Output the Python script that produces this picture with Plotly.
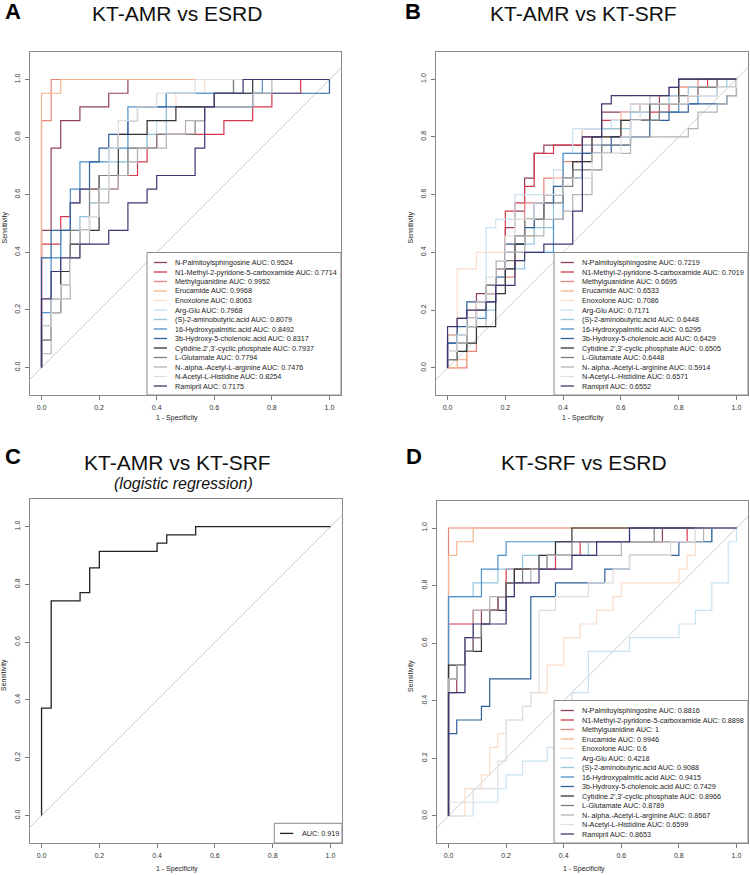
import plotly.graph_objects as go

W, H = 750, 875
FONT = "Liberation Sans, Arial, Helvetica, sans-serif"

# ---------------- data ----------------
metabolites = [
    "N-Palmitoylsphingosine", "N1-Methyl-2-pyridone-5-carboxamide", "Methylguanidine",
    "Erucamide", "Enoxolone", "Arg-Glu", "(S)-2-aminobutyric.acid", "16-Hydroxypalmitic.acid",
    "3b-Hydroxy-5-cholenoic.acid", "Cytidine.2',3'-cyclic.phosphate", "L-Glutamate",
    "N-.alpha.-Acetyl-L-arginine", "N-Acetyl-L-Histidine", "Ramipril",
]
colors = [
    "#923f60", "#d43a4c", "#e8847a", "#f5b38e", "#fbdcc9", "#c9e2f0", "#95c6df",
    "#4d91cc", "#2f5f9b", "#333333", "#7f7f7f", "#b3b3b3", "#dedede", "#3b3672",
]

auc_A = ["0.9524", "0.7714", "0.9952", "0.9968", "0.8063", "0.7968", "0.8079",
         "0.8492", "0.8317", "0.7937", "0.7794", "0.7476", "0.8254", "0.7175"]
auc_B = ["0.7219", "0.7019", "0.6695", "0.6533", "0.7086", "0.7171", "0.6448",
         "0.6295", "0.6429", "0.6505", "0.6448", "0.5914", "0.6571", "0.6552"]
auc_C = "0.919"
auc_D = ["0.8816", "0.8898", "1", "0.9946", "0.6", "0.4218", "0.9088",
         "0.9415", "0.7429", "0.8966", "0.8789", "0.8667", "0.6599", "0.8653"]

# group sizes (negatives on x, positives on y)
n_A = (30, 21)
n_B = (30, 35)
n_C = (30, 35)
n_D = (35, 21)

# ROC staircases: (false-positive count, number of true-positive steps at that count)
roc_A = [
    [(0, 10), (1, 6), (2, 2), (4, 1), (7, 1), (9, 1)],
    [(0, 9), (2, 2), (3, 1), (4, 1), (8, 1), (10, 1), (11, 1), (12, 1), (19, 1), (22, 1), (24, 1), (27, 1)],
    [(0, 18), (1, 3)],
    [(0, 20), (2, 1)],
    [(0, 5), (2, 1), (3, 3), (4, 2), (5, 1), (6, 1), (7, 1), (9, 1), (10, 1), (11, 2), (13, 1), (14, 1), (17, 1)],
    [(0, 3), (1, 2), (2, 1), (3, 3), (4, 1), (5, 1), (6, 2), (7, 1), (8, 1), (10, 1), (11, 1), (12, 1), (13, 2), (20, 1)],
    [(0, 2), (1, 3), (2, 5), (4, 1), (5, 1), (6, 1), (7, 2), (9, 1), (11, 1), (13, 3), (20, 1)],
    [(0, 4), (1, 4), (2, 2), (3, 3), (4, 2), (7, 1), (9, 3), (13, 1), (23, 1)],
    [(0, 8), (1, 2), (3, 2), (4, 1), (5, 2), (6, 1), (7, 1), (9, 1), (10, 1), (22, 1), (30, 1)],
    [(0, 3), (1, 1), (2, 3), (3, 2), (4, 1), (6, 4), (8, 3), (11, 1), (14, 1), (18, 1), (22, 1)],
    [(0, 2), (1, 3), (2, 1), (3, 4), (5, 3), (6, 1), (9, 2), (12, 1), (16, 1), (17, 1), (18, 1), (20, 1)],
    [(0, 1), (1, 3), (2, 1), (3, 3), (4, 1), (5, 2), (6, 1), (7, 1), (8, 1), (9, 1), (10, 1), (13, 1), (15, 1), (17, 1), (22, 1), (24, 1)],
    [(0, 3), (1, 2), (2, 1), (3, 2), (4, 2), (5, 1), (6, 2), (7, 3), (8, 2), (10, 1), (12, 1), (16, 1)],
    [(0, 5), (1, 2), (2, 1), (4, 1), (7, 1), (9, 2), (11, 1), (12, 1), (16, 2), (17, 3), (18, 1), (21, 1)],
]
roc_B = [
    [(0, 4), (1, 2), (3, 3), (4, 1), (5, 2), (6, 5), (7, 2), (8, 4), (9, 3), (10, 1), (14, 2), (16, 2), (20, 1), (22, 1), (24, 1), (28, 1)],
    [(0, 3), (2, 3), (3, 2), (4, 1), (5, 1), (6, 9), (7, 1), (8, 2), (9, 4), (11, 1), (14, 1), (16, 2), (21, 1), (23, 1), (25, 1), (26, 1), (27, 1)],
    [(2, 2), (3, 3), (4, 3), (5, 3), (7, 4), (8, 5), (10, 3), (12, 2), (14, 2), (16, 2), (18, 2), (19, 1), (21, 1), (23, 1), (26, 1)],
    [(1, 1), (2, 6), (4, 2), (5, 2), (6, 2), (8, 3), (9, 2), (10, 3), (11, 2), (13, 2), (15, 3), (18, 2), (21, 2), (24, 2), (30, 1)],
    [(0, 4), (1, 8), (3, 2), (6, 1), (7, 3), (10, 3), (11, 2), (12, 3), (14, 3), (18, 2), (21, 1), (24, 1), (26, 1), (28, 1)],
    [(0, 3), (2, 2), (4, 12), (5, 1), (7, 3), (11, 3), (12, 2), (13, 3), (17, 1), (19, 2), (21, 1), (23, 1), (24, 1)],
    [(0, 2), (2, 3), (3, 2), (5, 3), (6, 2), (8, 3), (9, 2), (11, 4), (12, 2), (14, 4), (16, 2), (19, 2), (21, 1), (23, 1), (25, 1), (29, 1)],
    [(0, 3), (1, 1), (2, 2), (4, 2), (5, 3), (6, 3), (11, 4), (12, 8), (16, 1), (19, 3), (22, 1), (24, 1), (26, 1), (28, 1), (30, 1)],
    [(0, 3), (1, 2), (2, 3), (4, 2), (5, 3), (6, 2), (8, 2), (9, 3), (11, 2), (12, 1), (14, 3), (17, 2), (21, 2), (23, 1), (25, 1), (29, 1), (30, 2)],
    [(0, 1), (1, 1), (2, 1), (3, 2), (5, 4), (6, 3), (7, 3), (8, 3), (10, 3), (12, 2), (13, 2), (15, 3), (18, 2), (21, 2), (24, 3)],
    [(0, 1), (1, 2), (2, 2), (3, 2), (4, 3), (5, 3), (7, 3), (8, 2), (10, 2), (12, 2), (13, 2), (16, 3), (19, 3), (22, 2), (24, 1), (26, 1), (28, 1)],
    [(0, 2), (1, 1), (2, 2), (3, 2), (4, 2), (5, 3), (6, 2), (8, 2), (10, 2), (12, 1), (13, 2), (15, 3), (16, 2), (19, 2), (25, 1), (26, 2), (28, 1), (29, 1), (30, 2)],
    [(0, 2), (1, 2), (2, 2), (3, 2), (4, 3), (5, 2), (6, 3), (7, 2), (9, 2), (10, 1), (12, 2), (15, 3), (18, 2), (19, 2), (20, 2), (25, 1), (28, 1), (30, 1)],
    [(0, 5), (1, 1), (2, 1), (4, 1), (5, 2), (7, 3), (8, 1), (10, 1), (13, 4), (14, 9), (16, 4), (17, 1), (23, 1), (24, 1)],
]
roc_C = [(0, 13), (1, 13), (4, 1), (5, 3), (6, 2), (12, 1), (13, 1), (16, 1)]
roc_D = [
    [(0, 9), (1, 2), (2, 1), (3, 1), (4, 2), (6, 1), (7, 1), (8, 1), (12, 1), (13, 1), (26, 1)],
    [(0, 14), (3, 1), (6, 1), (7, 2), (13, 1), (16, 1), (29, 1)],
    [(0, 21)],
    [(0, 19), (1, 1), (3, 1)],
    [(2, 2), (4, 1), (5, 2), (6, 1), (7, 1), (9, 1), (10, 1), (12, 2), (14, 2), (16, 1), (18, 1), (20, 1), (21, 1), (28, 1), (29, 1), (30, 2)],
    [(3, 1), (6, 1), (7, 1), (9, 1), (12, 1), (13, 1), (14, 2), (15, 1), (17, 3), (22, 1), (28, 1), (30, 1), (32, 2), (34, 3), (35, 1)],
    [(0, 16), (3, 1), (6, 1), (9, 1), (17, 1), (32, 1)],
    [(0, 16), (4, 2), (6, 1), (7, 1), (22, 1)],
    [(0, 6), (1, 1), (4, 1), (5, 2), (10, 6), (13, 1), (19, 1), (22, 1), (28, 1), (32, 1)],
    [(0, 11), (2, 1), (4, 2), (5, 1), (7, 2), (8, 1), (11, 1), (13, 1), (15, 1)],
    [(0, 10), (1, 1), (2, 1), (3, 1), (4, 1), (5, 1), (6, 1), (7, 1), (9, 1), (12, 1), (15, 1), (25, 1)],
    [(0, 10), (1, 1), (2, 2), (3, 2), (5, 1), (8, 1), (10, 1), (12, 1), (21, 1), (31, 1)],
    [(0, 1), (3, 1), (6, 2), (7, 3), (9, 1), (10, 1), (11, 6), (13, 1), (17, 1), (20, 1), (22, 1), (27, 1), (30, 1)],
    [(0, 9), (2, 4), (3, 1), (7, 2), (8, 1), (11, 1), (15, 1), (18, 1), (22, 1)],
]

tick_vals = [0, 0.2, 0.4, 0.6, 0.8, 1.0]
tick_text = ["0.0", "0.2", "0.4", "0.6", "0.8", "1.0"]

titles = ["KT-AMR vs ESRD", "KT-AMR vs KT-SRF", "KT-AMR vs KT-SRF", "KT-SRF vs ESRD"]
letters = ["A", "B", "C", "D"]
subtitle_C = "(logistic regression)"

# ---------------- layout geometry (pixels) ----------------
frames = {  # left, right, top, bottom
    "A": (30, 341, 52, 395),
    "B": (436, 748, 52, 395),
    "C": (30, 342, 499, 843),
    "D": (437, 748, 501, 843),
}


def px(x):
    return x / W


def py(y):
    return 1 - y / H


def staircase(runs, n):
    nfp, ntp = n
    xs, ys, y = [0], [0], 0
    for x, c in runs:
        xs.append(x)
        ys.append(y)
        y += c
        xs.append(x)
        ys.append(y)
    xs.append(nfp)
    ys.append(ntp)
    return [v / nfp for v in xs], [v / ntp for v in ys]


fig = go.Figure()
shapes, annotations = [], []
axis_ids = {"A": "", "B": "2", "C": "3", "D": "4"}

axis_style = dict(
    showgrid=False, zeroline=False, showline=True, mirror=True,
    linecolor="#8a8a8a", linewidth=1, ticks="outside", ticklen=4,
    tickcolor="#777777", tickwidth=1, tickvals=tick_vals, ticktext=tick_text,
    tickfont=dict(family=FONT, size=7, color="#333333"), fixedrange=True,
)

for key in ["A", "B", "C", "D"]:
    l, r, t, b = frames[key]
    wpx, hpx = r - l, b - t
    yhalf = (hpx / wpx) * 1.08 / 2
    sid = axis_ids[key]
    fig.update_layout(**{
        "xaxis" + sid: dict(axis_style, domain=[px(l), px(r)], range=[-0.04, 1.04],
                            anchor="y" + sid, ticklabelstandoff=2),
        "yaxis" + sid: dict(axis_style, domain=[py(b), py(t)], range=[0.5 - yhalf, 0.5 + yhalf],
                            anchor="x" + sid, tickangle=-90, ticklabelstandoff=2),
    })
    # diagonal reference line
    fig.add_trace(go.Scatter(x=[-0.2, 1.2], y=[-0.2, 1.2], mode="lines",
                             line=dict(color="#cccccc", width=1),
                             xaxis="x" + sid, yaxis="y" + sid, showlegend=False,
                             hoverinfo="skip"))

# curves
for key, roc, n in [("A", roc_A, n_A), ("B", roc_B, n_B), ("D", roc_D, n_D)]:
    sid = axis_ids[key]
    for i, runs in enumerate(roc):
        xs, ys = staircase(runs, n)
        fig.add_trace(go.Scatter(x=xs, y=ys, mode="lines", line=dict(color=colors[i], width=1.2),
                                 xaxis="x" + sid, yaxis="y" + sid, showlegend=False,
                                 name=metabolites[i]))
xs, ys = staircase(roc_C, n_C)
fig.add_trace(go.Scatter(x=xs, y=ys, mode="lines", line=dict(color="#222222", width=1.3),
                         xaxis="x3", yaxis="y3", showlegend=False, name="logistic regression"))


def text(x, y, s, size, xanchor="center", yanchor="middle", bold=False, italic=False,
         angle=0, color="#111111"):
    if bold:
        s = "<b>" + s + "</b>"
    if italic:
        s = "<i>" + s + "</i>"
    annotations.append(dict(x=px(x), y=py(y), xref="paper", yref="paper", text=s,
                            showarrow=False, xanchor=xanchor, yanchor=yanchor,
                            textangle=angle, borderpad=0,
                            font=dict(family=FONT, size=size, color=color)))


# titles and panel letters
title_y = {"A": 13.5, "B": 13.5, "C": 462, "D": 462}
letter_y = {"A": 12, "B": 12, "C": 457, "D": 457}
for key, ttl, let in zip(["A", "B", "C", "D"], titles, letters):
    l, r, t, b = frames[key]
    x0 = l + 0.04 * (r - l) / 1.08
    x1 = l + 1.04 * (r - l) / 1.08
    cx = (x0 + x1) / 2 - 9
    text(cx, title_y[key], ttl, 21)
    text(l - 17 if key in "AC" else l - 23, letter_y[key], let, 22, bold=True, color="#000000")
    # axis titles
    text(cx, b + 23 if key in "AB" else b + 26, "1 - Specificity", 7, color="#222222")
    text(l - 26, (t + b) / 2 + 4, "Sensitivity", 7, angle=-90, color="#222222")
text(183, 483.5, subtitle_C, 16, italic=True)

# legends (drawn as in base R: box in bottom-right corner of plot)
row_h = 9.5
for key, aucs in [("A", auc_A), ("B", auc_B), ("D", auc_D)]:
    l, r, t, b = frames[key]
    bw, bh = 194, 142.5
    bl, bt = r - bw, b - bh
    shapes.append(dict(type="rect", xref="paper", yref="paper", x0=px(bl), x1=px(r),
                       y0=py(b), y1=py(bt), line=dict(color="#8a8a8a", width=1),
                       fillcolor="white", layer="above"))
    for i, name in enumerate(metabolites):
        yy = bt + 10 + i * row_h
        shapes.append(dict(type="line", xref="paper", yref="paper", x0=px(bl + 6.7), x1=px(bl + 20),
                           y0=py(yy), y1=py(yy), line=dict(color=colors[i], width=1.3), layer="above"))
        text(bl + 26.5, yy, f"{name} AUC: {aucs[i]}", 7.2, xanchor="left", color="#222222")

l, r, t, b = frames["C"]
shapes.append(dict(type="rect", xref="paper", yref="paper", x0=px(r - 67.7), x1=px(r),
                   y0=py(b), y1=py(b - 19.7), line=dict(color="#8a8a8a", width=1),
                   fillcolor="white", layer="above"))
shapes.append(dict(type="line", xref="paper", yref="paper", x0=px(r - 62), x1=px(r - 48.7),
                   y0=py(b - 9.6), y1=py(b - 9.6), line=dict(color="#222222", width=1.3), layer="above"))
text(r - 41.5, b - 9.6, f"AUC: {auc_C}", 7.2, xanchor="left", color="#222222")

fig.update_layout(width=W, height=H, margin=dict(l=0, r=0, t=0, b=0),
                  paper_bgcolor="white", plot_bgcolor="white",
                  shapes=shapes, annotations=annotations, showlegend=False)
fig.write_html("out.html", config={"displayModeBar": False, "staticPlot": True},
               post_script="document.body.style.margin='0px';document.body.style.overflow='hidden';")
